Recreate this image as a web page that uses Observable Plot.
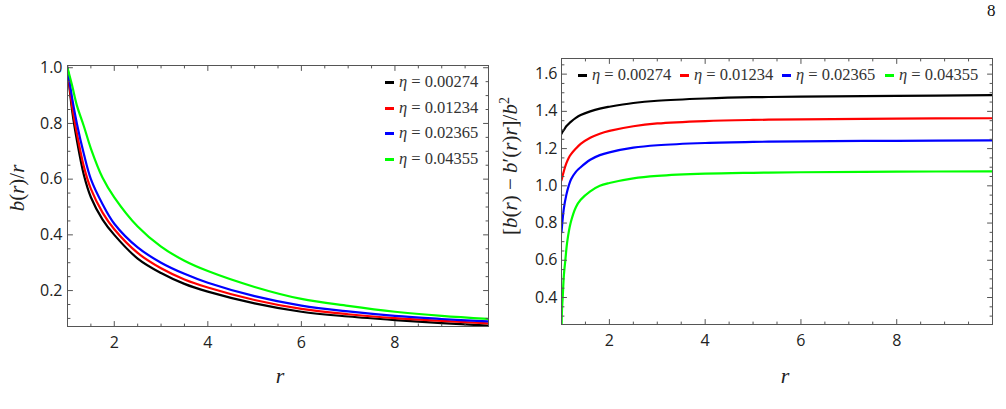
<!DOCTYPE html>
<html>
<head>
<meta charset="utf-8">
<script src="https://cdn.jsdelivr.net/npm/d3@7"></script>
<script src="https://cdn.jsdelivr.net/npm/@observablehq/plot@0.6"></script>
<style>
  html, body { margin: 0; padding: 0; background: #fff; }
  #page { position: relative; width: 1006px; height: 409px; overflow: hidden; background: #fff; }
  .panel { position: absolute; top: 0; }
  .math { position: absolute; font-family: "Liberation Serif", serif; color: #222; white-space: nowrap; }
  .math i { font-style: italic; }
  .ylab { transform: translate(-50%, -50%) rotate(-90deg); font-size: 21px; }
  .xlab { transform: translate(-50%, -50%); font-size: 22px; }
  .key { position: absolute; font-family: "Liberation Serif", serif; font-size: 16.5px; color: #333; white-space: nowrap; transform: translateY(-50%); }
  .key i { font-style: italic; }
  .key .sw { display: inline-block; width: 9px; height: 3px; vertical-align: middle; margin-right: 5px; position: relative; top: -1px; }
  .pageno { position: absolute; font-family: "Liberation Serif", serif; font-size: 17px; color: #111; }
</style>
</head>
<body>
<div id="page">
  <div class="panel" id="left" style="left:0px"></div>
  <div class="panel" id="right" style="left:500px"></div>
</div>
<script>
// Series labels (η values) and their line colours
const etaLabels = ["0.00274", "0.01234", "0.02365", "0.04355"];
const etaColors = ["#000000", "#ff0000", "#0000ff", "#00ff00"];

// Left panel: b(r)/r against r
const rLeft = [1, 1.1, 1.2, 1.35, 1.5, 1.75, 2, 2.5, 3, 3.5, 4, 5, 6, 7, 8, 9, 10];
const shapeA = [1.0, 0.845, 0.74, 0.615, 0.535, 0.455, 0.40, 0.315, 0.263, 0.224, 0.196, 0.154, 0.124, 0.107, 0.094, 0.083, 0.074];
const shapeB = [1.0, 0.86, 0.765, 0.645, 0.565, 0.48, 0.42, 0.335, 0.28, 0.24, 0.211, 0.166, 0.134, 0.115, 0.101, 0.091, 0.082];
const shapeC = [1.0, 0.89, 0.80, 0.69, 0.60, 0.51, 0.44, 0.355, 0.30, 0.26, 0.228, 0.18, 0.146, 0.125, 0.109, 0.098, 0.089];
const shapeD = [1.0, 0.935, 0.865, 0.79, 0.71, 0.605, 0.535, 0.43, 0.358, 0.307, 0.27, 0.213, 0.170, 0.145, 0.124, 0.109, 0.098];

// Right panel: [b(r) - b'(r) r] / b^2 against r
const rRight = [1, 1.02, 1.05, 1.1, 1.15, 1.2, 1.3, 1.4, 1.6, 1.8, 2, 2.5, 3, 4, 5, 6, 8, 10];
const necA = [1.28, 1.29, 1.30, 1.32, 1.333, 1.345, 1.365, 1.38, 1.40, 1.415, 1.425, 1.445, 1.457, 1.469, 1.476, 1.479, 1.483, 1.487];
const necB = [1.03, 1.05, 1.08, 1.12, 1.15, 1.17, 1.20, 1.225, 1.258, 1.28, 1.295, 1.32, 1.335, 1.348, 1.354, 1.357, 1.361, 1.363];
const necC = [0.75, 0.81, 0.88, 0.95, 1.0, 1.035, 1.075, 1.10, 1.14, 1.165, 1.18, 1.205, 1.218, 1.23, 1.236, 1.239, 1.242, 1.244];
const rRightD = [1, 1.01, 1.025, 1.05, 1.08, 1.12, 1.19, 1.3, 1.4, 1.6, 1.8, 2, 2.5, 3, 4, 5, 6, 8, 10];
const necD = [0.2, 0.33, 0.40, 0.52, 0.60, 0.70, 0.80, 0.885, 0.925, 0.97, 1.0, 1.015, 1.04, 1.053, 1.065, 1.07, 1.073, 1.076, 1.078];

// Tick positions
const xMajor = [2, 4, 6, 8];
const xMinor = [1.5, 2.5, 3, 3.5, 4.5, 5, 5.5, 6.5, 7, 7.5, 8.5, 9, 9.5];
const leftYMajor = [0.2, 0.4, 0.6, 0.8, 1.0];
const leftYMinor = [0.1, 0.15, 0.25, 0.3, 0.35, 0.45, 0.5, 0.55, 0.65, 0.7, 0.75, 0.85, 0.9, 0.95];
const rightYMajor = [0.4, 0.6, 0.8, 1.0, 1.2, 1.4, 1.6];
const rightYMinor = [0.3, 0.35, 0.45, 0.5, 0.55, 0.65, 0.7, 0.75, 0.85, 0.9, 0.95, 1.05, 1.1, 1.15, 1.25, 1.3, 1.35, 1.45, 1.5, 1.55, 1.65];

const toRows = (rs, vs) => rs.map((r, i) => ({r, v: vs[i]}));

// short inward tick drawn from the frame edge
const spike = {draw(context, l) { context.moveTo(0, 0); context.lineTo(0, -l); }};
const frameColor = "#555";

function frameTicks(xMaj, xMin, yMaj, yMin) {
  const marks = [];
  const sides = [
    ["x", "bottom", 0], ["x", "top", 180], ["y", "left", 90], ["y", "right", -90]
  ];
  for (const [k, anchor, rot] of sides) {
    for (const [vals, len] of [[k === "x" ? xMaj : yMaj, 5], [k === "x" ? xMin : yMin, 2.5]]) {
      marks.push(Plot.vector(vals, {
        [k]: d => d, frameAnchor: anchor, rotate: rot, length: len,
        anchor: "start", shape: spike, stroke: frameColor, strokeWidth: 1
      }));
    }
  }
  return marks;
}

function panel({width, margins, yDomain, series, xMaj, xMin, yMaj, yMin, yPad}) {
  return Plot.plot({
    width, height: 409,
    marginLeft: margins[0], marginRight: margins[1], marginTop: margins[2], marginBottom: margins[3],
    style: {fontFamily: "'Open Sans', sans-serif", fontSize: "16px", color: "#222", background: "transparent"},
    x: {domain: [1, 10]},
    y: {domain: yDomain},
    marks: [
      ...series.map(([rows, color]) => Plot.line(rows, {x: "r", y: "v", stroke: color, strokeWidth: 2.2, curve: "catmull-rom", clip: true})),
      Plot.frame({stroke: frameColor, strokeWidth: 1}),
      ...frameTicks(xMaj, xMin, yMaj, yMin),
      Plot.axisX({ticks: xMaj, tickSize: 0, tickPadding: 10, label: null, tickFormat: d3.format("d")}),
      Plot.axisY({ticks: yMaj, tickSize: 0, tickPadding: yPad, label: null, tickFormat: d3.format(".1f")})
    ]
  });
}

const left = panel({
  width: 500, margins: [67, 12, 65, 83], yDomain: [0.071, 1.008],
  series: [[toRows(rLeft, shapeA), etaColors[0]], [toRows(rLeft, shapeB), etaColors[1]],
           [toRows(rLeft, shapeC), etaColors[2]], [toRows(rLeft, shapeD), etaColors[3]]],
  xMaj: xMajor, xMin: xMinor, yMaj: leftYMajor, yMin: leftYMinor, yPad: 5
});
document.getElementById("left").append(left);

const right = panel({
  width: 506, margins: [61, 14, 58, 85], yDomain: [0.255, 1.684],
  series: [[toRows(rRight, necA), etaColors[0]], [toRows(rRight, necB), etaColors[1]],
           [toRows(rRight, necC), etaColors[2]], [toRows(rRightD, necD), etaColors[3]]],
  xMaj: xMajor, xMin: xMinor, yMaj: rightYMajor, yMin: rightYMinor, yPad: 4
});
document.getElementById("right").append(right);

// Axis titles and legends as text overlays
const page = document.getElementById("page");
function addHTML(cls, html, x, y) {
  const el = document.createElement("div");
  el.className = cls;
  el.innerHTML = html;
  el.style.left = x + "px";
  el.style.top = y + "px";
  page.append(el);
  return el;
}
addHTML("math ylab", "<i>b</i>(<i>r</i>)/<i>r</i>", 17, 188);
addHTML("math xlab", "<i>r</i>", 280, 376);
addHTML("math ylab", "[<i>b</i>(<i>r</i>) − <i>b</i>′(<i>r</i>)<i>r</i>]/<i>b</i><sup style='font-size:14px'>2</sup>", 510, 166);
addHTML("math xlab", "<i>r</i>", 785, 376);

const keyHTML = (i) => `<span class="sw" style="background:${etaColors[i]}"></span><i>η</i> = ${etaLabels[i]}`;
const leftKeyY = [82, 108, 133, 159];
etaLabels.forEach((_, i) => addHTML("key", keyHTML(i), 385, leftKeyY[i]));
const rightKeyX = [578, 680, 782, 885];
etaLabels.forEach((_, i) => addHTML("key", keyHTML(i), rightKeyX[i], 75));

addHTML("pageno", "8", 987, 1);
</script>
</body>
</html>
